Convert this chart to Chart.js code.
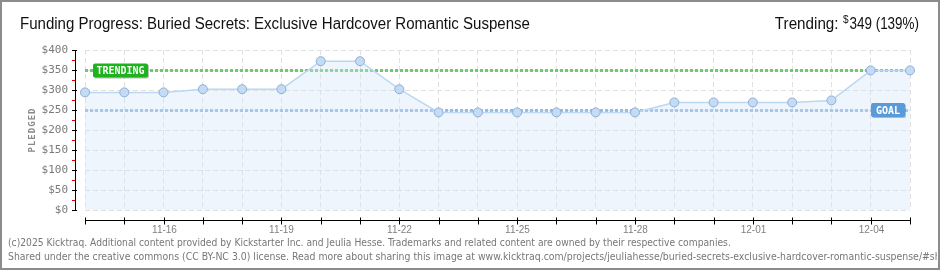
<!DOCTYPE html>
<html>
<head>
<meta charset="utf-8">
<script src="https://cdn.jsdelivr.net/npm/chart.js@4"></script>
<style>
  html, body { margin: 0; padding: 0; background: #fff; }
  #wrap { width: 940px; height: 270px; position: relative; }
</style>
</head>
<body>
<div id="wrap"><canvas id="fundChart" width="940" height="270"></canvas></div>
<script>
// data
var days = ['11-14','11-15','11-16','11-17','11-18','11-19','11-20','11-21','11-22','11-23','11-24',
            '11-25','11-26','11-27','11-28','11-29','11-30','12-01','12-02','12-03','12-04','12-05'];
var pledged = [294,294,294,302,302,302,372,372,302,244,244,244,244,244,244,269,269,269,269,274,349,349];
var xTickLabels = ['11-16','11-19','11-22','11-25','11-28','12-01','12-04'];
var yTicks = [0,50,100,150,200,250,300,350,400];
var goal = 250;
var trending = 349;
var trendPct = 139;

var titleText = 'Funding Progress: Buried Secrets: Exclusive Hardcover Romantic Suspense';
var footer1 = '(c)2025 Kicktraq. Additional content provided by Kickstarter Inc. and Jeulia Hesse. Trademarks and related content are owned by their respective companies.';
var footer2 = 'Shared under the creative commons (CC BY-NC 3.0) license. Read more about sharing this image at www.kicktraq.com/projects/jeuliahesse/buried-secrets-exclusive-hardcover-romantic-suspense/#sh';

function labelBox(ctx, x, y, w, h, color, text) {
  ctx.save();
  ctx.fillStyle = 'rgba(0,0,0,0.25)';
  ctx.beginPath();
  ctx.roundRect(x + 1, y + 1, w, h, 2);
  ctx.fill();
  ctx.fillStyle = color;
  ctx.beginPath();
  ctx.roundRect(x, y, w, h, 2);
  ctx.fill();
  ctx.fillStyle = '#fff';
  ctx.font = 'bold 10px "DejaVu Sans Mono"';
  ctx.textAlign = 'center';
  ctx.textBaseline = 'middle';
  ctx.fillText(text, x + w / 2, y + h / 2 + 1);
  ctx.restore();
}

// squeezed text, anchored at x with given alignment
function narrowText(ctx, text, x, y, sx, align) {
  ctx.save();
  ctx.translate(x, y);
  ctx.scale(sx, 1);
  ctx.textAlign = align;
  ctx.fillText(text, 0, 0);
  var w = ctx.measureText(text).width * sx;
  ctx.restore();
  return w;
}

var decor = {
  id: 'decor',
  beforeDatasetsDraw: function(chart) {
    var ctx = chart.ctx, a = chart.chartArea, ys = chart.scales.y;
    ctx.save();
    ctx.lineWidth = 3;
    ctx.setLineDash([3, 2]);
    var yt = Math.round(ys.getPixelForValue(trending)) + 0.5;
    ctx.strokeStyle = '#6dcb6d';
    ctx.beginPath(); ctx.moveTo(a.left, yt); ctx.lineTo(a.right, yt); ctx.stroke();
    var yg = Math.round(ys.getPixelForValue(goal)) + 0.5;
    ctx.strokeStyle = '#93bbe6';
    ctx.beginPath(); ctx.moveTo(a.left, yg); ctx.lineTo(a.right, yg); ctx.stroke();
    ctx.restore();
  },
  afterDatasetsDraw: function(chart) {
    var ctx = chart.ctx, a = chart.chartArea, ys = chart.scales.y;
    var yt = ys.getPixelForValue(trending);
    var yg = ys.getPixelForValue(goal);
    labelBox(ctx, a.left + 8, yt - 7, 55, 14, '#1db31d', 'TRENDING');
    labelBox(ctx, a.right - 39, yg - 7, 34, 14, '#5a9ad8', 'GOAL');
  },
  afterDraw: function(chart) {
    var ctx = chart.ctx, a = chart.chartArea, xs = chart.scales.x, ys = chart.scales.y;
    ctx.save();
    // y axis line + ticks
    var axX = a.left - 9.5;
    ctx.strokeStyle = '#000';
    ctx.lineWidth = 1;
    ctx.beginPath(); ctx.moveTo(axX, a.top); ctx.lineTo(axX, a.bottom + 1); ctx.stroke();
    ctx.font = '11px "DejaVu Sans Mono"';
    ctx.fillStyle = '#7a7a7a';
    ctx.textAlign = 'right';
    ctx.textBaseline = 'middle';
    yTicks.forEach(function(v) {
      var py = Math.round(ys.getPixelForValue(v)) + 0.5;
      ctx.strokeStyle = '#000';
      ctx.beginPath(); ctx.moveTo(axX - 3.5, py); ctx.lineTo(axX + 1.5, py); ctx.stroke();
      ctx.fillText('$' + v, 68, py);
      if (v < 400) {
        var pm = Math.round(ys.getPixelForValue(v + 25)) + 0.5;
        ctx.strokeStyle = '#e00000';
        ctx.beginPath(); ctx.moveTo(axX - 3.5, pm); ctx.lineTo(axX - 0.5, pm); ctx.stroke();
      }
    });
    // x axis line + ticks
    var axY = a.bottom + 10.5;
    ctx.strokeStyle = '#000';
    ctx.beginPath(); ctx.moveTo(a.left, axY); ctx.lineTo(a.right + 1, axY); ctx.stroke();
    ctx.font = '10px "Liberation Sans"';
    ctx.fillStyle = '#808080';
    ctx.textAlign = 'center';
    ctx.textBaseline = 'top';
    days.forEach(function(d, i) {
      var px = Math.round(xs.getPixelForValue(i)) + 0.5;
      ctx.beginPath(); ctx.moveTo(px, axY - 3); ctx.lineTo(px, axY + 4); ctx.stroke();
      if (xTickLabels.indexOf(d) >= 0) ctx.fillText(d, px, axY + 5);
    });
    // y axis title
    ctx.save();
    ctx.translate(33, (a.top + a.bottom) / 2);
    ctx.rotate(-Math.PI / 2);
    ctx.font = 'bold 9px "DejaVu Sans Mono"';
    ctx.letterSpacing = '1px';
    ctx.fillStyle = '#8a8a8a';
    ctx.textAlign = 'center';
    ctx.textBaseline = 'middle';
    ctx.fillText('PLEDGED', 0, 0);
    ctx.restore();
    // title
    ctx.fillStyle = '#111';
    ctx.font = '16px "Liberation Sans"';
    ctx.textBaseline = 'alphabetic';
    narrowText(ctx, titleText, 20, 29, 0.94, 'left');
    // trending text at right
    var rest = trending + ' (' + trendPct + '%)';
    var wRest = narrowText(ctx, rest, 919, 29, 0.84, 'right');
    ctx.font = '10px "Liberation Sans"';
    narrowText(ctx, '$', 919 - wRest - 1, 23, 1, 'right');
    ctx.font = '16px "Liberation Sans"';
    narrowText(ctx, 'Trending:', 919 - wRest - 11, 29, 0.95, 'right');
    // footer
    ctx.fillStyle = '#777';
    ctx.font = '10px "DejaVu Sans Condensed", "Liberation Sans"';
    ctx.textAlign = 'left';
    ctx.beginPath(); ctx.rect(0, 230, 937, 40); ctx.clip();
    narrowText(ctx, footer1, 8, 246, 1.02, 'left');
    narrowText(ctx, footer2, 8, 260, 1.04, 'left');
    ctx.restore();
    // frame
    ctx.save();
    ctx.strokeStyle = '#8c8c8c';
    ctx.lineWidth = 2;
    ctx.strokeRect(1, 1, 938, 268);
    ctx.restore();
  }
};

new Chart(document.getElementById('fundChart').getContext('2d'), {
  type: 'line',
  data: {
    labels: days,
    datasets: [{
      label: 'Pledged',
      data: pledged,
      borderColor: '#bcd7f2',
      borderWidth: 1.5,
      backgroundColor: 'rgba(205,225,250,0.35)',
      fill: 'origin',
      tension: 0,
      pointRadius: 4.5,
      pointBackgroundColor: '#c4dbf5',
      pointBorderColor: '#90aed2',
      pointBorderWidth: 1,
      clip: false
    }]
  },
  options: {
    responsive: false,
    animation: false,
    layout: { padding: { left: 85, right: 30, top: 50, bottom: 60 } },
    plugins: { legend: { display: false }, tooltip: { enabled: false } },
    scales: {
      x: {
        type: 'category',
        offset: false,
        ticks: { display: false },
        border: { display: false, dash: [5, 3] },
        grid: { color: '#e0e0e0', drawTicks: false },
        afterFit: function(s) { s.height = 0; }
      },
      y: {
        min: 0, max: 400,
        ticks: { display: false, stepSize: 50 },
        border: { display: false, dash: [5, 3] },
        grid: { color: '#e0e0e0', drawTicks: false },
        afterFit: function(s) { s.width = 0; }
      }
    }
  },
  plugins: [decor]
});
</script>
</body>
</html>
